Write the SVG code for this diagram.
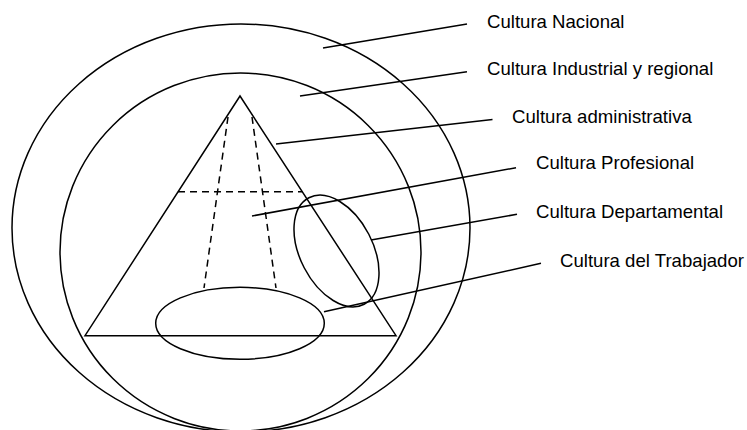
<svg xmlns="http://www.w3.org/2000/svg" width="747" height="430" viewBox="0 0 747 430">
<style>
.s{fill:none;stroke:#000;stroke-width:1.5}
.d{fill:none;stroke:#000;stroke-width:1.5;stroke-dasharray:7 5}
.t{font-family:"Liberation Sans",Arial,sans-serif;font-size:18.6px;fill:#000}
</style>
<rect width="747" height="430" fill="#fff"/>
<g id="nacional"><ellipse class="s" cx="241" cy="228" rx="229" ry="204"/></g>
<g id="industrial"><ellipse class="s" cx="240.5" cy="252" rx="180.5" ry="179"/></g>
<g id="administrativa">
<polygon class="s" points="240,96 85,335.7 396,335.7"/>
</g>
<g id="profesional">
<line class="d" x1="178" y1="191.7" x2="302.5" y2="191.7"/>
<line class="d" x1="228" y1="117" x2="204" y2="288"/>
<line class="d" x1="252" y1="117" x2="276" y2="288"/>
</g>
<g id="departamental"><ellipse class="s" cx="336.5" cy="251" rx="60" ry="36.4" transform="rotate(62.6 336.5 251)"/></g>
<g id="trabajador"><ellipse class="s" cx="240" cy="323.3" rx="84.3" ry="36"/></g>
<g id="connectors">
<line class="s" x1="323" y1="48" x2="467" y2="24"/>
<line class="s" x1="300" y1="96" x2="467" y2="71.7"/>
<line class="s" x1="276" y1="144" x2="492.5" y2="119.4"/>
<line class="s" x1="252" y1="216" x2="516" y2="167.7"/>
<line class="s" x1="371" y1="240" x2="517" y2="214.3"/>
<line class="s" x1="324" y1="311.7" x2="541" y2="263.3"/>
</g>
<g id="labels">
<text class="t" x="487" y="27.5">Cultura Nacional</text>
<text class="t" x="487" y="75">Cultura Industrial y regional</text>
<text class="t" x="512" y="123">Cultura administrativa</text>
<text class="t" x="536" y="168.7">Cultura Profesional</text>
<text class="t" x="536" y="218.3">Cultura Departamental</text>
<text class="t" x="560" y="267.3">Cultura del Trabajador</text>
</g>
</svg>
